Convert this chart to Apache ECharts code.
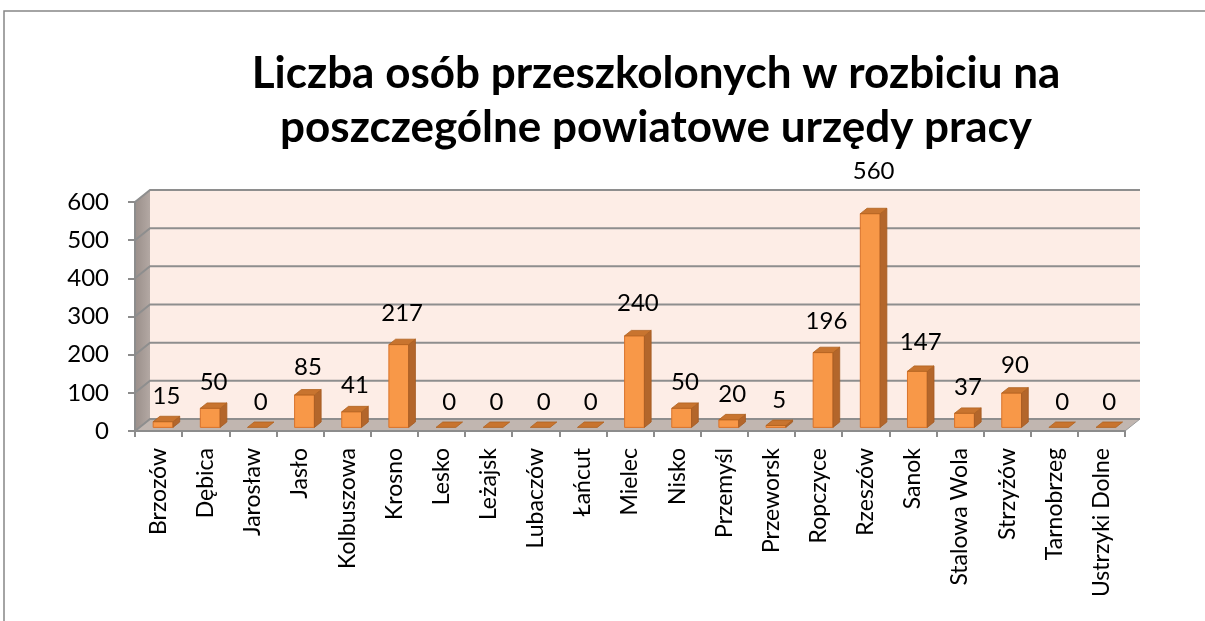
<!DOCTYPE html>
<html>
<head>
<meta charset="UTF-8">
<title>Liczba osób przeszkolonych</title>
<script src="https://cdn.jsdelivr.net/npm/echarts@6/dist/echarts.min.js"></script>
<style>
html, body { margin: 0; padding: 0; background: #fff; }
#chart { width: 1205px; height: 621px; }
</style>
</head>
<body>
<div id="chart"></div>
<script>
// dane z wykresu
var categories = ['Brzozów', 'Dębica', 'Jarosław', 'Jasło', 'Kolbuszowa', 'Krosno', 'Lesko', 'Leżajsk',
	'Lubaczów', 'Łańcut', 'Mielec', 'Nisko', 'Przemyśl', 'Przeworsk', 'Ropczyce', 'Rzeszów', 'Sanok',
	'Stalowa Wola', 'Strzyżów', 'Tarnobrzeg', 'Ustrzyki Dolne'];
var values = [15, 50, 0, 85, 41, 217, 0, 0, 0, 0, 240, 50, 20, 5, 196, 560, 147, 37, 90, 0, 0];
var yTicks = [0, 100, 200, 300, 400, 500, 600];

// głębokość "3D" (przesunięcie tylnej ściany)
var DX = 15, DY = -12;
var FONT = 'Lato, "Open Sans", sans-serif';

var myChart = echarts.init(document.getElementById('chart'));

function renderWalls(params, api) {
	var n = categories.length;
	var bw = api.size([1, 0])[0];
	var left = api.coord([0, 0])[0] - bw / 2;
	var right = api.coord([n - 1, 0])[0] + bw / 2;
	var y0 = api.coord([0, 0])[1];
	var yTop = api.coord([0, yTicks[yTicks.length - 1]])[1];
	var children = [];
	// tylna ściana
	children.push({
		type: 'rect',
		shape: { x: left + DX, y: yTop + DY, width: right - left, height: y0 - yTop },
		style: { fill: '#fdede6' }
	});
	// boczna ściana
	children.push({
		type: 'polygon',
		shape: { points: [[left, y0], [left + DX, y0 + DY], [left + DX, yTop + DY], [left, yTop]] },
		style: {
			fill: new echarts.graphic.LinearGradient(0, 0, 1, 0, [
				{ offset: 0, color: '#9a8f8a' }, { offset: 1, color: '#b3a8a3' }
			])
		}
	});
	// podłoga
	children.push({
		type: 'polygon',
		shape: { points: [[left, y0], [left + DX, y0 + DY], [right + DX, y0 + DY], [right, y0]] },
		style: { fill: '#c1b6b0', stroke: '#9a9a9a', lineWidth: 1 }
	});
	// linie siatki
	yTicks.forEach(function (t) {
		var y = api.coord([0, t])[1];
		children.push({
			type: 'polyline',
			shape: { points: [[left, y], [left + DX, y + DY], [right + DX, y + DY]] },
			style: { stroke: '#8e8e8e', lineWidth: 2, fill: null }
		});
	});
	return { type: 'group', children: children };
}

function renderBar(params, api) {
	var i = api.value(0), v = api.value(1);
	var bw = api.size([1, 0])[0];
	var w = bw * 0.42;
	var cx = api.coord([i, 0])[0];
	var fx = DX * 0.3, fy = DY * 0.3;
	var ddx = DX * 0.45, ddy = DY * 0.45;
	var x0 = cx - w / 2 + fx, x1 = x0 + w;
	var yb = api.coord([i, 0])[1] + fy;
	var yt = api.coord([i, v])[1] + fy;
	var children = [];
	if (v > 0) {
		children.push({
			type: 'rect',
			shape: { x: x0, y: yt, width: w, height: yb - yt },
			style: { fill: '#f89848', stroke: '#d9732a', lineWidth: 1 }
		});
		children.push({
			type: 'polygon',
			shape: { points: [[x1, yb], [x1 + ddx, yb + ddy], [x1 + ddx, yt + ddy], [x1, yt]] },
			style: { fill: '#b3662b', stroke: '#a35a22', lineWidth: 0.8 }
		});
	}
	children.push({
		type: 'polygon',
		shape: { points: [[x0, yt], [x0 + ddx, yt + ddy], [x1 + ddx, yt + ddy], [x1, yt]] },
		style: { fill: '#c8742f', stroke: '#b0621f', lineWidth: 0.8 }
	});
	// etykieta: odstęp rośnie lekko z wysokością słupka (perspektywa)
	var gap = 25 + 0.08 * (yb - yt);
	children.push({
		type: 'text',
		style: {
			text: String(v),
			x: x0 + w / 2 + ddx / 2,
			y: yt - gap,
			align: 'center',
			verticalAlign: 'middle',
			font: '24px ' + FONT,
			fill: '#000'
		}
	});
	return { type: 'group', children: children };
}

var option = {
	animation: false,
	title: {
		text: 'Liczba osób przeszkolonych w rozbiciu na\nposzczególne powiatowe urzędy pracy',
		left: 651,
		top: 42,
		textAlign: 'center',
		textStyle: { fontFamily: FONT, fontSize: 44, fontWeight: 'bold', color: '#000', lineHeight: 54 }
	},
	graphic: [{
		type: 'rect',
		shape: { x: 4, y: 11, width: 1400, height: 800 },
		style: { fill: null, stroke: '#868686', lineWidth: 1.5 },
		silent: true
	}],
	grid: { left: 135, right: 80, top: 202, bottom: 190, outerBoundsMode: 'none' },
	xAxis: {
		type: 'category',
		data: categories,
		z: 5,
		axisLine: { lineStyle: { color: '#8c8c8c', width: 2 } },
		axisTick: { show: true, length: 6, interval: 0, lineStyle: { color: '#8c8c8c', width: 2 } },
		axisLabel: { interval: 0, rotate: 90, margin: 17, fontFamily: FONT, fontSize: 23, color: '#000' },
		splitLine: { show: false }
	},
	yAxis: {
		type: 'value',
		min: 0,
		max: 600,
		interval: 100,
		z: 5,
		axisLine: { show: true, lineStyle: { color: '#8c8c8c', width: 2 } },
		axisTick: { show: true, length: 7, lineStyle: { color: '#8c8c8c', width: 2 } },
		axisLabel: { margin: 26, fontFamily: FONT, fontSize: 24, color: '#000' },
		splitLine: { show: false }
	},
	series: [{
		type: 'custom',
		z: 1,
		silent: true,
		renderItem: renderWalls,
		data: [[0, 0]]
	}, {
		type: 'custom',
		z: 3,
		renderItem: renderBar,
		data: values.map(function (v, i) { return [i, v]; })
	}]
};

myChart.setOption(option);
</script>
</body>
</html>
